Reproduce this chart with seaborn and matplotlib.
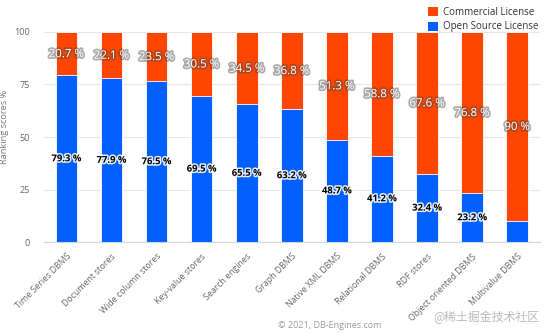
import matplotlib
matplotlib.use("Agg")
import matplotlib.pyplot as plt
import matplotlib.patheffects as pe
from matplotlib.patches import Patch
import seaborn as sns
import pandas as pd
import numpy as np

categories = ["Time Series DBMS", "Document stores", "Wide column stores",
              "Key-value stores", "Search engines", "Graph DBMS",
              "Native XML DBMS", "Relational DBMS", "RDF stores",
              "Object oriented DBMS", "Multivalue DBMS"]
open_source = [79.3, 77.9, 76.5, 69.5, 65.5, 63.2, 48.7, 41.2, 32.4, 23.2, 10.0]
commercial = [20.7, 22.1, 23.5, 30.5, 34.5, 36.8, 51.3, 58.8, 67.6, 76.8, 90.0]
y_ticks = [0, 25, 50, 75, 100]

ORANGE = "#ff4500"
BLUE = "#0060ff"

df = pd.DataFrame({"category": categories,
                   "open": open_source,
                   "commercial": commercial})
df["total"] = df["open"] + df["commercial"]

sns.set_theme(style="white")
plt.rcParams["font.family"] = ["Open Sans", "Noto Sans CJK SC", "DejaVu Sans"]

fig = plt.figure(figsize=(5.48, 3.33), dpi=100)
ax = fig.add_axes([0.080, 0.273, 0.905, 0.631])

sns.barplot(data=df, x="category", y="total", color=ORANGE, saturation=1,
            width=0.48, edgecolor="white", linewidth=0.6, ax=ax)
sns.barplot(data=df, x="category", y="open", color=BLUE, saturation=1,
            width=0.48, edgecolor="white", linewidth=0.6, ax=ax)

ax.set_ylim(0, 100)
ax.set_xlim(-0.5, len(categories) - 0.5)
ax.set_yticks(y_ticks)
ax.set_yticklabels([str(t) for t in y_ticks], fontsize=6.5, color="#666666")
ax.yaxis.grid(True, color="#e6e6e6", linewidth=0.8)
ax.set_axisbelow(True)
for side in ["top", "right", "left"]:
    ax.spines[side].set_visible(False)
ax.spines["bottom"].set_color("#ccd6eb")
ax.spines["bottom"].set_linewidth(0.8)

ax.set_xticks(range(len(categories)))
ax.set_xticklabels(categories, rotation=45, ha="right", rotation_mode="anchor",
                   fontsize=6.3, color="#666666")
ax.tick_params(axis="x", length=0, pad=7)
ax.tick_params(axis="y", length=0, pad=10)
ax.set_xticks(np.arange(-0.5, len(categories), 1.0), minor=True)
ax.tick_params(axis="x", which="minor", length=6, color="#ccd6eb", width=0.8)

ax.set_xlabel("")
ax.set_ylabel("Ranking scores %", fontsize=6.7, color="#777777")
ax.yaxis.set_label_coords(-0.070, 0.55)


def fmt(v):
    return f"{v:g} %"


white_fx = [pe.withStroke(linewidth=2.4, foreground="#444444", alpha=0.45)]
black_fx = [pe.withStroke(linewidth=2.2, foreground="white", alpha=0.9)]

for i, (o, c) in enumerate(zip(open_source, commercial)):
    ax.text(i, o + c / 2, fmt(c), ha="center", va="center", fontsize=8.3,
            color="white", path_effects=white_fx)
    if o >= 15:
        ax.text(i, o / 2, fmt(o), ha="center", va="center", fontsize=6.8,
                color="black", fontweight="bold", path_effects=black_fx)

handles = [Patch(facecolor=ORANGE, edgecolor="none", label="Commercial License"),
           Patch(facecolor=BLUE, edgecolor="none", label="Open Source License")]
fig.legend(handles=handles, loc="upper left", bbox_to_anchor=(0.765, 1.005),
           frameon=False, fontsize=7, handlelength=1.0, handleheight=1.0,
           handletextpad=0.5, labelspacing=0.35, labelcolor="#333333")

fig.text(0.507, 0.009, "© 2021, DB-Engines.com", ha="left", va="bottom",
         fontsize=6.5, color="#999999")
fig.text(0.790, 0.028, "@稀土掘金技术社区", ha="left", va="bottom",
         fontsize=8.6, color="#bbbbbb", family=["Noto Sans CJK SC", "DejaVu Sans"])

fig.savefig("out.png", dpi=100)
